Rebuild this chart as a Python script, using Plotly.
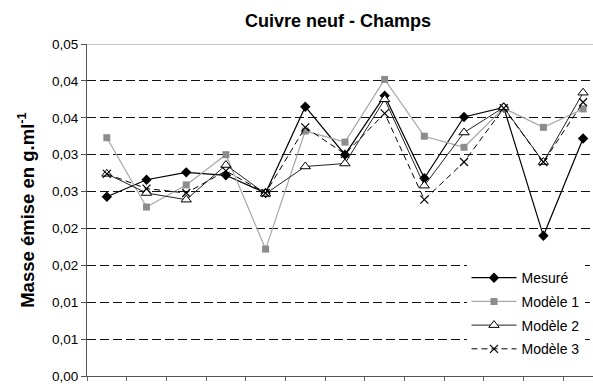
import plotly.graph_objects as go

samples = list(range(1, 14))
mesure = [0.0243, 0.0266, 0.0276, 0.0272, 0.0248, 0.0365, 0.0300, 0.0380, 0.0268, 0.0351, 0.0364, 0.0190, 0.0322]
modele1 = [0.0323, 0.0229, 0.0259, 0.0300, 0.0172, 0.0332, 0.0317, 0.0402, 0.0325, 0.0310, 0.0363, 0.0337, 0.0362]
modele2 = [0.0274, 0.0248, 0.0239, 0.0286, 0.0247, 0.0284, 0.0288, 0.0375, 0.0258, 0.0330, 0.0364, 0.0290, 0.0384]
modele3 = [0.0274, 0.0254, 0.0248, 0.0278, 0.0248, 0.0337, 0.0301, 0.0356, 0.0239, 0.0290, 0.0363, 0.0290, 0.0371]

y_ticks = [0, 0.005, 0.01, 0.015, 0.02, 0.025, 0.03, 0.035, 0.04, 0.045]
y_ticktext = ["0,00", "0,01", "0,01", "0,02", "0,02", "0,03", "0,03", "0,04", "0,04", "0,05"]
x_ticks = [i + 0.5 for i in range(0, 14)]

fig = go.Figure()
fig.add_trace(go.Scatter(x=samples, y=mesure, name="Mesuré", mode="lines+markers", legendgroup="a",
                         line=dict(color="#000000", width=1.2),
                         marker=dict(symbol="diamond", size=8, color="#000000")))
fig.add_trace(go.Scatter(x=samples, y=modele1, name="Modèle 1", mode="lines+markers", legendgroup="b",
                         line=dict(color="#a6a6a6", width=1.2),
                         marker=dict(symbol="square", size=7, color="#8c8c8c")))
fig.add_trace(go.Scatter(x=samples, y=modele2, name="Modèle 2", mode="lines+markers", legendgroup="c",
                         line=dict(color="#222222", width=1),
                         marker=dict(symbol="triangle-up", size=9, color="white",
                                     line=dict(color="#000000", width=1))))
fig.add_trace(go.Scatter(x=samples, y=modele3, name="Modèle 3", mode="lines+markers", legendgroup="d",
                         line=dict(color="#000000", width=1, dash="6px,4px"),
                         marker=dict(symbol="x-thin-open", size=8, color="#000000",
                                     line=dict(color="#000000", width=1.2))))

fig.add_shape(type="line", xref="paper", yref="y", x0=0, x1=1, y0=0.045, y1=0.045,
              line=dict(color="#888888", width=1), layer="above")

fig.update_layout(
    width=593, height=389,
    margin=dict(l=87, r=0, t=44, b=13),
    paper_bgcolor="white", plot_bgcolor="white",
    font=dict(family="Liberation Sans, Arial, sans-serif", color="#000000", size=13.5),
    title=dict(text="<b>Cuivre neuf - Champs</b>", x=0.57, xanchor="center",
               y=0.947, yanchor="middle", font=dict(size=18)),
    showlegend=True,
    legend=dict(x=0.75, xanchor="left", y=0.343, yanchor="top",
                bgcolor="white", borderwidth=0, font=dict(size=14),
                itemwidth=45, tracegroupgap=2.5),
    xaxis=dict(range=[0.5, 13.25], tickmode="array", tickvals=x_ticks,
               showticklabels=False, ticks="outside", ticklen=4, tickcolor="#666666",
               showline=True, linecolor="#555555", linewidth=1.2,
               showgrid=False, zeroline=False),
    yaxis=dict(range=[0, 0.045], tickmode="array", tickvals=y_ticks, ticktext=y_ticktext,
               ticks="outside", ticklen=5, tickcolor="#555555",
               showline=True, linecolor="#555555", linewidth=1.2,
               showgrid=True, gridcolor="#111111", gridwidth=1, griddash="9px,4px",
               zeroline=False,
               title=dict(text="<b>Masse émise en g.ml<sup>-1</sup></b>", standoff=12,
                          font=dict(size=18.5))),
)

fig.write_html("out.html", config={"displayModeBar": False},
               post_script="document.body.style.margin='0';")
